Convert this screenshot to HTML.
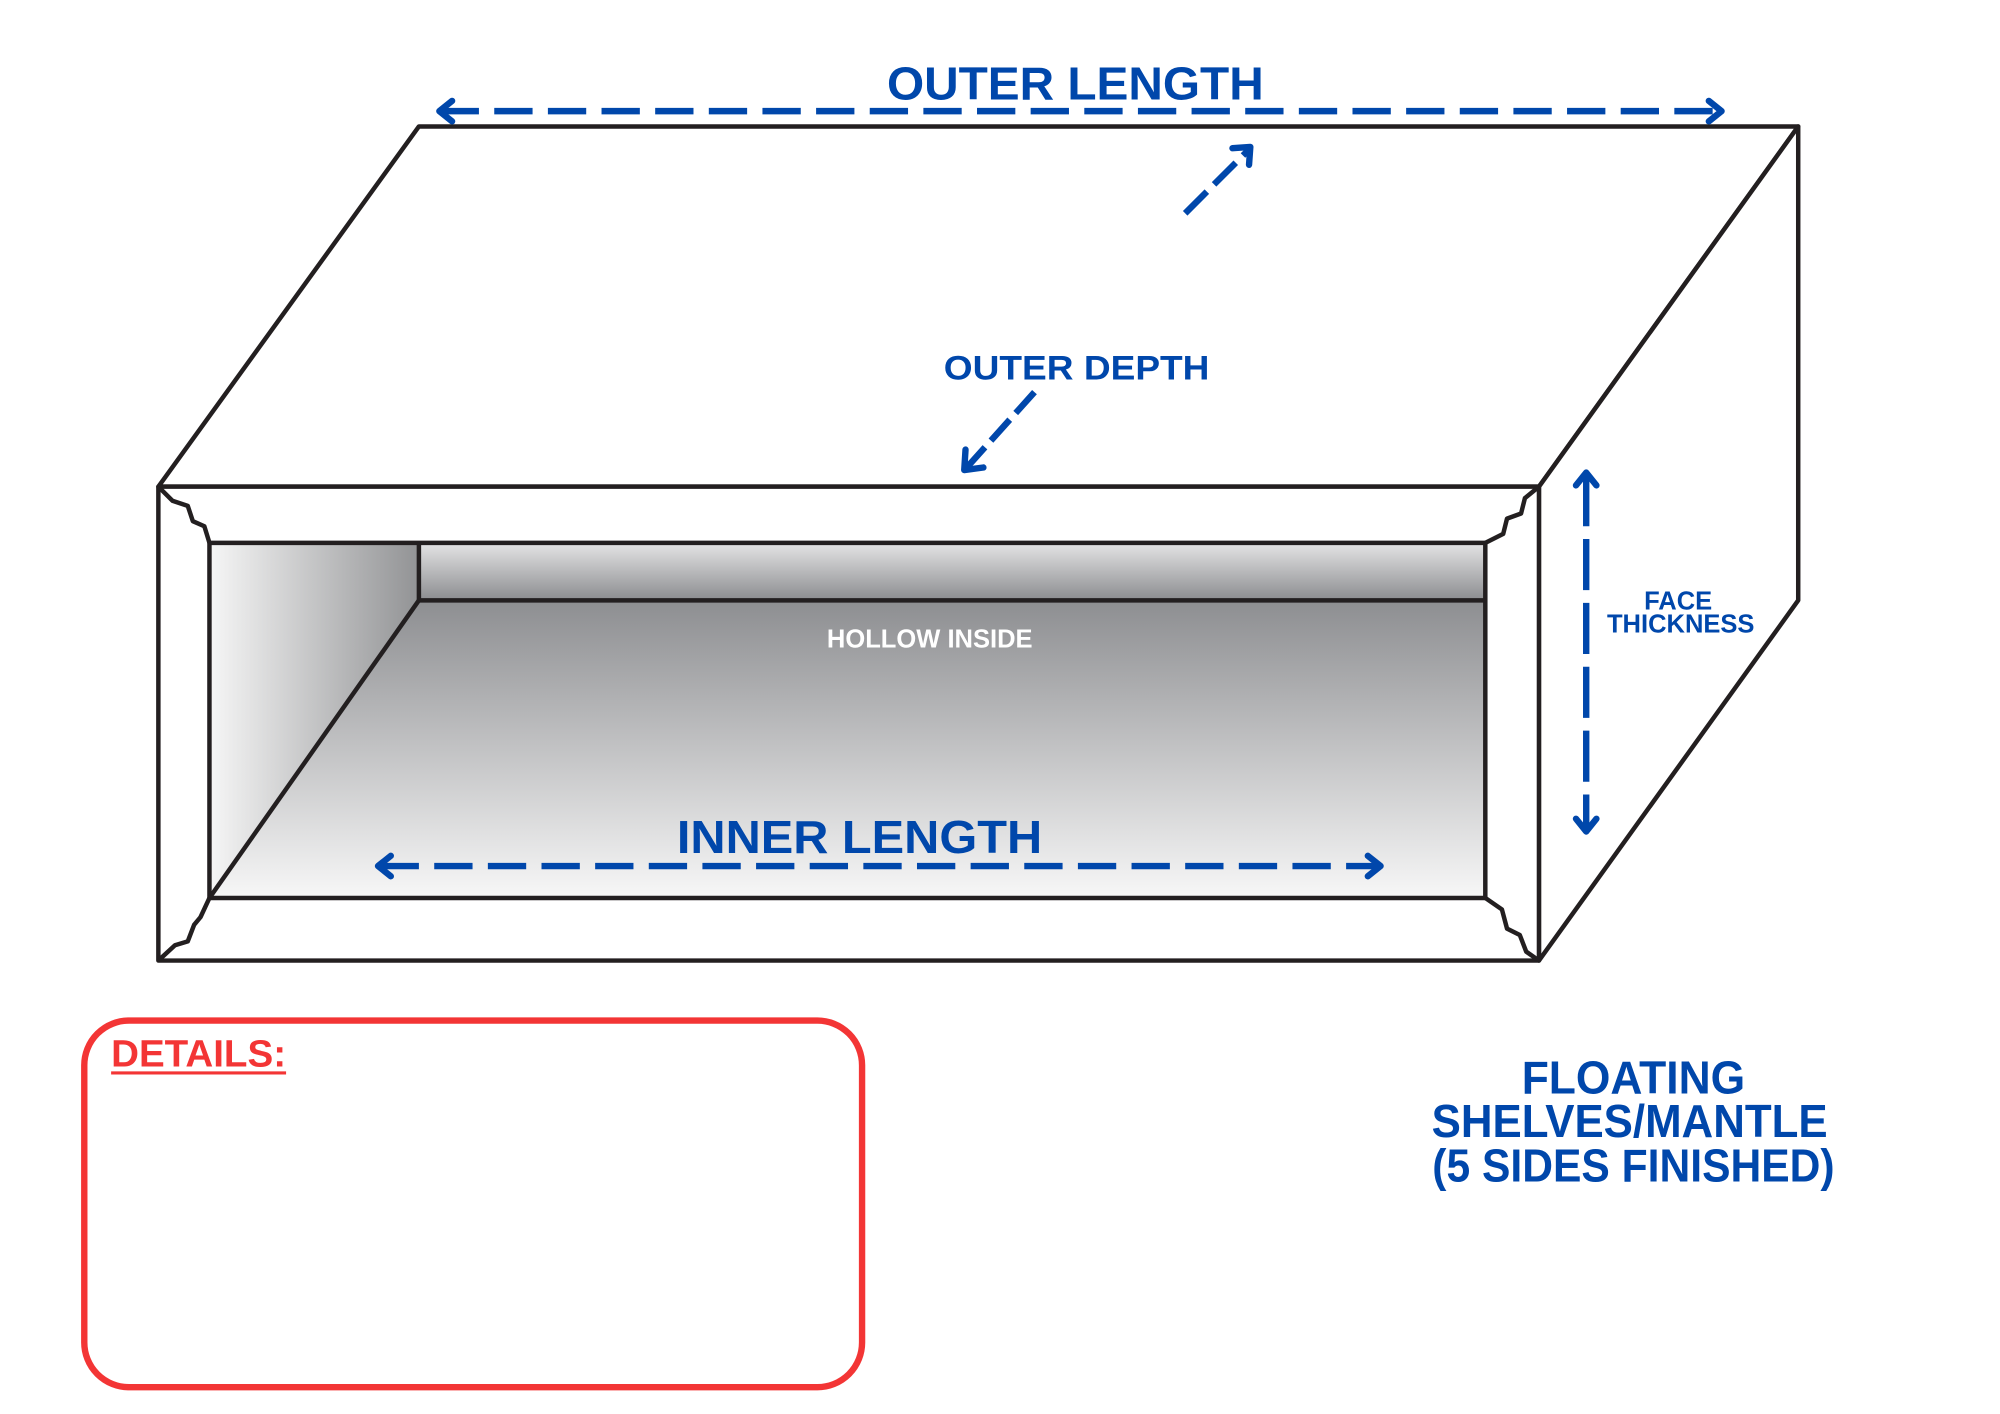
<!DOCTYPE html>
<html><head><meta charset="utf-8"><style>html,body{margin:0;padding:0;background:#fff}svg{display:block}</style></head>
<body>
<svg width="2000" height="1414" viewBox="0 0 1566 1107" preserveAspectRatio="none" xmlns="http://www.w3.org/2000/svg" font-family="Liberation Sans, sans-serif">
<defs>
<linearGradient id="lw" x1="0" y1="0" x2="1" y2="0"><stop offset="0" stop-color="#f6f6f6"/><stop offset="1" stop-color="#929395"/></linearGradient>
<linearGradient id="bk" x1="0" y1="0" x2="0" y2="1"><stop offset="0" stop-color="#e4e4e5"/><stop offset="1" stop-color="#8c8d90"/></linearGradient>
<linearGradient id="fl" x1="0" y1="0" x2="0" y2="1"><stop offset="0" stop-color="#8d8e91"/><stop offset="1" stop-color="#f7f7f7"/></linearGradient>
</defs>
<g stroke="#231f20" stroke-width="3.5" stroke-linejoin="round" fill="#fff">
<polygon points="328,99 1408,99 1205,381 124,381"/>
<polygon points="1408,99 1408,470 1205,752 1205,381"/>
<rect x="124" y="381" width="1081" height="371"/>
<rect x="164" y="425" width="164" height="278" fill="url(#lw)" stroke="none"/>
<rect x="328" y="425" width="835" height="45" fill="url(#bk)" stroke="none"/>
<polygon points="328,470 1163,470 1163,703 164,703" fill="url(#fl)" stroke="none"/>
<rect x="164" y="425" width="999" height="278" fill="none"/>
<polyline points="328,425 328,470 1163,470" fill="none"/>
<line x1="328" y1="470" x2="164" y2="703"/>
<polyline fill="none" points="124,381 135,392 147,396 151,408 160,412 164,425"/>
<polyline fill="none" points="1205,381 1194,390 1191,402 1180,406 1177,418 1163,425"/>
<polyline fill="none" points="124,752 137,740 147,737 152,724 157,718 164,703"/>
<polyline fill="none" points="1205,752 1195,745 1190,732 1180,727 1176,712 1163,703"/>
</g>
<g stroke="#0047ab" stroke-width="5" fill="none" stroke-linecap="round" stroke-linejoin="round">
<line x1="345" y1="87" x2="1347" y2="87" stroke-dasharray="30,12" stroke-linecap="butt"/>
<polyline points="354,79 344,87 354,95"/><polyline points="1338,79 1348,87 1338,95"/>
<line x1="928" y1="167" x2="978" y2="117" stroke-dasharray="24,8" stroke-linecap="butt"/>
<polyline points="965,116 979,115 978,129"/>
<line x1="810" y1="307" x2="757" y2="366" stroke-dasharray="22,7" stroke-linecap="butt"/>
<polyline points="756,352 755,368 770,366"/>
<line x1="1242" y1="372" x2="1242" y2="650" stroke-dasharray="40,10" stroke-linecap="butt"/>
<polyline points="1234,380 1242,370 1250,380"/><polyline points="1234,641 1242,651 1250,641"/>
<line x1="298" y1="678" x2="1080" y2="678" stroke-dasharray="30,12" stroke-linecap="butt"/>
<polyline points="306,670 296,678 306,686"/><polyline points="1071,670 1081,678 1071,686"/>
</g>
<g fill="#0047ab" font-weight="bold" text-anchor="middle">
<text x="842" y="78" font-size="36" textLength="295" lengthAdjust="spacingAndGlyphs">OUTER LENGTH</text>
<text x="843" y="297" font-size="27" textLength="208" lengthAdjust="spacingAndGlyphs">OUTER DEPTH</text>
<text x="673" y="668" font-size="36" textLength="286" lengthAdjust="spacingAndGlyphs">INNER LENGTH</text>
<text x="1314" y="477" font-size="20">FACE</text>
<text x="1316" y="495" font-size="20">THICKNESS</text>
<text x="1279" y="856" font-size="36" textLength="175" lengthAdjust="spacingAndGlyphs">FLOATING</text>
<text x="1276" y="890" font-size="36" textLength="310" lengthAdjust="spacingAndGlyphs">SHELVES/MANTLE</text>
<text x="1279" y="925" font-size="36" textLength="315" lengthAdjust="spacingAndGlyphs">(5 SIDES FINISHED)</text>
</g>
<text x="728" y="507" font-size="20" fill="#fff" font-weight="bold" text-anchor="middle">HOLLOW INSIDE</text>
<rect x="66" y="799" width="609" height="287" rx="35" fill="none" stroke="#f33535" stroke-width="5"/>
<text x="87" y="835" font-size="30" font-weight="bold" fill="#f33535" textLength="137" lengthAdjust="spacingAndGlyphs">DETAILS:</text>
<line x1="87" y1="840" x2="224" y2="840" stroke="#f33535" stroke-width="2.5"/>
</svg>
</body></html>
